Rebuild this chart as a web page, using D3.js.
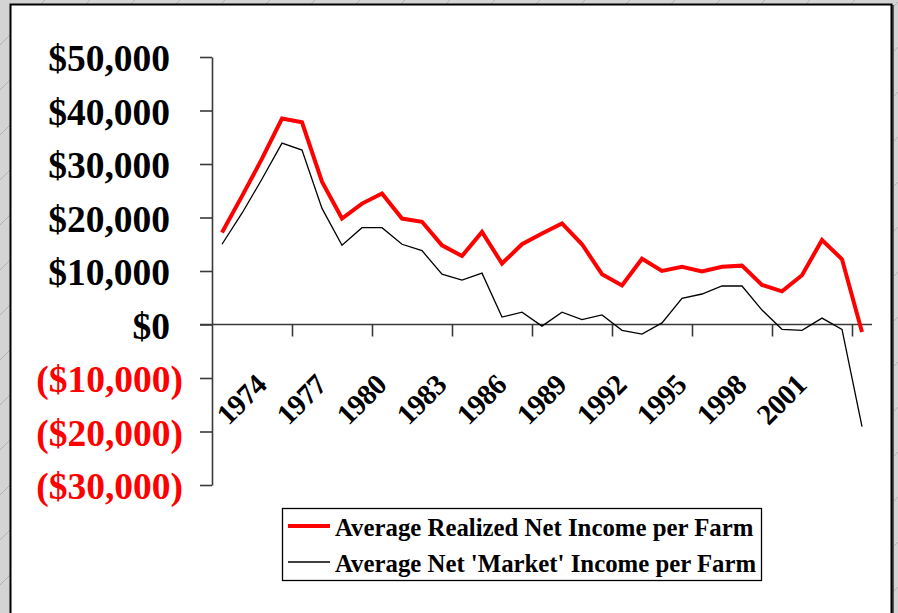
<!DOCTYPE html>
<html>
<head>
<meta charset="utf-8">
<script src="https://cdn.jsdelivr.net/npm/d3@7"></script>
<style>
  html, body { margin: 0; padding: 0; background: #d4d4d4; }
  svg { display: block; }
</style>
</head>
<body>
<svg id="chart" width="898" height="613"></svg>
<script>
// ---- data ----
const years = d3.range(1972, 2005).map(String); // 33 categories
const realized = [17200, 24000, 31000, 38500, 37800, 26700, 19800, 22600, 24500, 19800,
                  19200, 14800, 12800, 17300, 11400, 15000, 17000, 18900, 15000, 9400,
                  7300, 12300, 10000, 10800, 9900, 10800, 11000, 7400, 6200, 9200,
                  15800, 12200, -1400];
const market   = [15000, 20800, 27200, 33900, 32600, 21700, 14800, 18100, 18100, 15000,
                  13800, 9400, 8300, 9600, 1400, 2300, -300, 2300, 900, 1800,
                  -1100, -1800, 300, 4900, 5700, 7200, 7200, 2700, -900, -1100,
                  1200, -900, -19100];
const yTicks = [50000, 40000, 30000, 20000, 10000, 0, -10000, -20000, -30000];
const xTickLabels = ["1974", "1977", "1980", "1983", "1986", "1989", "1992", "1995", "1998", "2001"];
const seriesNames = ["Average Realized Net Income per Farm", "Average Net 'Market' Income per Farm"];

(function () {
// ---- layout ----
const svg = d3.select("#chart");
const W = 898, H = 613;
const mLeft = 212, mRight = 872, mTop = 57, mBottom = 485;
const serif = "'Liberation Serif', 'Times New Roman', serif";

// background pattern
const defs = svg.append("defs");
const pat = defs.append("pattern").attr("id", "diag").attr("patternUnits", "userSpaceOnUse")
  .attr("width", 45).attr("height", 45);
pat.append("rect").attr("width", 45).attr("height", 45).attr("fill", "#d4d4d4");
pat.append("line").attr("x1", 0).attr("y1", 45).attr("x2", 45).attr("y2", 0)
  .attr("stroke", "#9a9a9a").attr("stroke-width", 0.6);
svg.append("rect").attr("width", W).attr("height", H).attr("fill", "url(#diag)");

// white chart area
svg.append("rect").attr("x", 892).attr("y", 5).attr("width", 2).attr("height", 620).attr("fill", "#555");
svg.append("rect").attr("x", 10.5).attr("y", 4.5).attr("width", 881).attr("height", 620)
  .attr("fill", "#fff").attr("stroke", "#000").attr("stroke-width", 2);

// scales
const x = d3.scaleBand().domain(years).range([mLeft, mRight]).paddingInner(0).paddingOuter(0);
const xc = d => x(d) + x.bandwidth() / 2;
const xi = d3.scaleLinear().domain([0, years.length]).range([mLeft, mRight]);
const y = d3.scaleLinear().domain([-30000, 50000]).range([mBottom, mTop]);

const axisColor = "#3a3a3a";

// y axis
const fmt = v => v < 0 ? "($" + d3.format(",")(-v) + ")" : "$" + d3.format(",")(v);
const yAxis = svg.append("g").attr("transform", `translate(${mLeft},0)`)
  .call(d3.axisLeft(y).tickValues(yTicks).tickSize(12).tickSizeOuter(0).tickFormat(fmt));
yAxis.select(".domain").attr("stroke", axisColor).attr("stroke-width", 1.6);
yAxis.selectAll(".tick line").attr("stroke", axisColor).attr("stroke-width", 1.6);
yAxis.selectAll(".tick text")
  .attr("font-family", serif).attr("font-weight", "bold").attr("font-size", "37.5px")
  .attr("fill", d => d < 0 ? "#ff0000" : "#000")
  .attr("x", d => d < 0 ? -29 : -42)
  .attr("dy", "0.36em");

// x axis (ticks every 4 categories)
const xAxis = svg.append("g").attr("transform", `translate(0,${y(0)})`)
  .call(d3.axisBottom(xi).tickValues(d3.range(4, years.length, 4)).tickSize(12).tickSizeOuter(0).tickFormat(""));
xAxis.select(".domain").attr("d", `M${mLeft - 12},0H${mRight}`).attr("stroke", axisColor).attr("stroke-width", 1.6);
xAxis.selectAll(".tick line").attr("stroke", axisColor).attr("stroke-width", 1.6);

// x labels
svg.append("g").selectAll("text").data(xTickLabels).join("text")
  .attr("transform", d => `translate(${xc(d) - 1},${y(0) + 55}) rotate(-45)`)
  .attr("text-anchor", "end").attr("dy", "0.35em")
  .attr("font-family", serif).attr("font-weight", "bold").attr("font-size", "29px")
  .attr("letter-spacing", "-0.5px")
  .attr("fill", "#000").text(d => d);

// lines
const line = d3.line().x((d, i) => xc(years[i])).y(d => y(d));
svg.append("path").datum(market).attr("d", line)
  .attr("fill", "none").attr("stroke", "#000").attr("stroke-width", 1.3).attr("stroke-linejoin", "miter");
svg.append("path").datum(realized).attr("d", line)
  .attr("fill", "none").attr("stroke", "#ff0000").attr("stroke-width", 4).attr("stroke-linejoin", "miter");

// legend
const lg = svg.append("g");
lg.append("rect").attr("x", 282.5).attr("y", 508.5).attr("width", 479).attr("height", 72)
  .attr("fill", "#fff").attr("stroke", "#000").attr("stroke-width", 1.3);
const legendItems = [
  {name: seriesNames[0], color: "#ff0000", width: 4, y: 526},
  {name: seriesNames[1], color: "#000", width: 1.3, y: 562}
];
legendItems.forEach(it => {
  lg.append("line").attr("x1", 288).attr("x2", 330).attr("y1", it.y).attr("y2", it.y)
    .attr("stroke", it.color).attr("stroke-width", it.width);
  lg.append("text").attr("x", 335).attr("y", it.y + 10)
    .attr("font-family", serif).attr("font-weight", "bold").attr("font-size", "24.8px")
    .attr("fill", "#000").text(it.name);
});
})();
</script>
</body>
</html>
